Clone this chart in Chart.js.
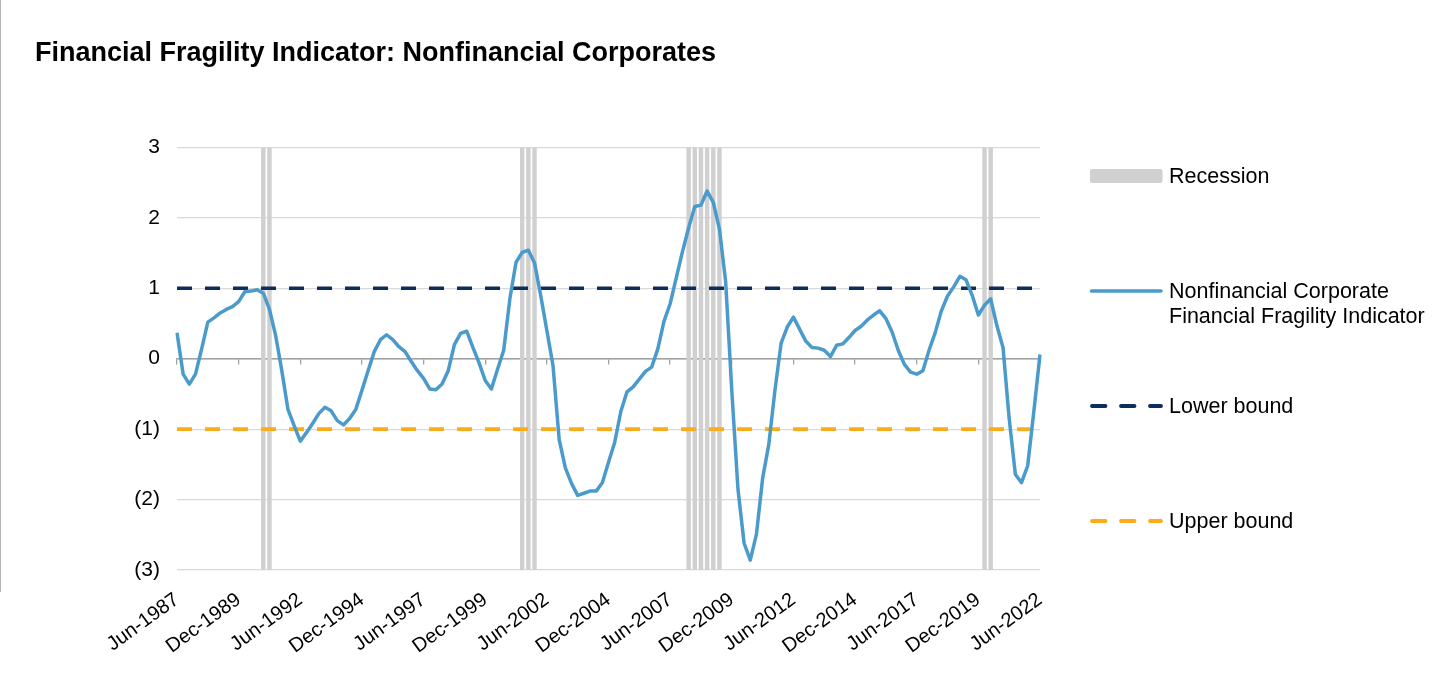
<!DOCTYPE html>
<html>
<head>
<meta charset="utf-8">
<script src="https://cdn.jsdelivr.net/npm/chart.js@4.4.1/dist/chart.umd.min.js"></script>
<style>
html,body{margin:0;padding:0;background:#fff;}
body{width:1439px;height:698px;position:relative;overflow:hidden;font-family:"Liberation Sans",Arial,Helvetica,sans-serif;}
#wrap{position:absolute;left:0;top:0;width:1439px;height:698px;}
#edge{position:absolute;left:0;top:0;width:1px;height:592px;background:#b5b5b5;}
.lg-text{position:absolute;left:1169px;font-size:21.5px;line-height:25px;color:#000;white-space:nowrap;}
.lg-swatch{position:absolute;left:1088px;width:78px;height:20px;}
</style>
</head>
<body>
<div id="edge"></div>
<div id="wrap"><canvas id="c"></canvas></div>
<div id="legend"></div>
<script>
// ---- Data ----
const chartTitle = 'Financial Fragility Indicator: Nonfinancial Corporates';

const quarters = [
  'Jun-1987','Sep-1987','Dec-1987',
  'Mar-1988','Jun-1988','Sep-1988','Dec-1988',
  'Mar-1989','Jun-1989','Sep-1989','Dec-1989',
  'Mar-1990','Jun-1990','Sep-1990','Dec-1990',
  'Mar-1991','Jun-1991','Sep-1991','Dec-1991',
  'Mar-1992','Jun-1992','Sep-1992','Dec-1992',
  'Mar-1993','Jun-1993','Sep-1993','Dec-1993',
  'Mar-1994','Jun-1994','Sep-1994','Dec-1994',
  'Mar-1995','Jun-1995','Sep-1995','Dec-1995',
  'Mar-1996','Jun-1996','Sep-1996','Dec-1996',
  'Mar-1997','Jun-1997','Sep-1997','Dec-1997',
  'Mar-1998','Jun-1998','Sep-1998','Dec-1998',
  'Mar-1999','Jun-1999','Sep-1999','Dec-1999',
  'Mar-2000','Jun-2000','Sep-2000','Dec-2000',
  'Mar-2001','Jun-2001','Sep-2001','Dec-2001',
  'Mar-2002','Jun-2002','Sep-2002','Dec-2002',
  'Mar-2003','Jun-2003','Sep-2003','Dec-2003',
  'Mar-2004','Jun-2004','Sep-2004','Dec-2004',
  'Mar-2005','Jun-2005','Sep-2005','Dec-2005',
  'Mar-2006','Jun-2006','Sep-2006','Dec-2006',
  'Mar-2007','Jun-2007','Sep-2007','Dec-2007',
  'Mar-2008','Jun-2008','Sep-2008','Dec-2008',
  'Mar-2009','Jun-2009','Sep-2009','Dec-2009',
  'Mar-2010','Jun-2010','Sep-2010','Dec-2010',
  'Mar-2011','Jun-2011','Sep-2011','Dec-2011',
  'Mar-2012','Jun-2012','Sep-2012','Dec-2012',
  'Mar-2013','Jun-2013','Sep-2013','Dec-2013',
  'Mar-2014','Jun-2014','Sep-2014','Dec-2014',
  'Mar-2015','Jun-2015','Sep-2015','Dec-2015',
  'Mar-2016','Jun-2016','Sep-2016','Dec-2016',
  'Mar-2017','Jun-2017','Sep-2017','Dec-2017',
  'Mar-2018','Jun-2018','Sep-2018','Dec-2018',
  'Mar-2019','Jun-2019','Sep-2019','Dec-2019',
  'Mar-2020','Jun-2020','Sep-2020','Dec-2020',
  'Mar-2021','Jun-2021','Sep-2021','Dec-2021',
  'Mar-2022','Jun-2022'
];

const tickLabels = [
  'Jun-1987','Dec-1989','Jun-1992','Dec-1994','Jun-1997','Dec-1999','Jun-2002',
  'Dec-2004','Jun-2007','Dec-2009','Jun-2012','Dec-2014','Jun-2017','Dec-2019','Jun-2022'
];

const fragilityIndicator = [
  0.37,-0.22,-0.36,-0.22,0.14,0.52,0.58,0.65,0.70,0.74,
  0.81,0.95,0.96,0.98,0.93,0.70,0.33,-0.17,-0.72,-0.95,
  -1.17,-1.05,-0.92,-0.78,-0.69,-0.74,-0.88,-0.94,-0.85,-0.72,
  -0.45,-0.17,0.10,0.27,0.34,0.27,0.17,0.10,-0.04,-0.17,
  -0.28,-0.43,-0.44,-0.36,-0.17,0.20,0.36,0.39,0.16,-0.06,
  -0.31,-0.43,-0.15,0.12,0.85,1.37,1.51,1.54,1.36,0.90,
  0.40,-0.10,-1.15,-1.55,-1.77,-1.94,-1.91,-1.88,-1.88,-1.76,
  -1.47,-1.19,-0.75,-0.47,-0.40,-0.29,-0.18,-0.12,0.14,0.53,
  0.78,1.15,1.52,1.86,2.16,2.18,2.38,2.22,1.84,1.10,
  -0.45,-1.85,-2.62,-2.86,-2.49,-1.70,-1.22,-0.45,0.22,0.45,
  0.59,0.42,0.25,0.16,0.15,0.12,0.03,0.19,0.21,0.30,
  0.40,0.46,0.55,0.62,0.68,0.57,0.38,0.12,-0.08,-0.19,
  -0.22,-0.17,0.12,0.37,0.68,0.89,1.02,1.17,1.12,0.90,
  0.62,0.76,0.85,0.47,0.16,-0.85,-1.64,-1.76,-1.52,-0.75,
  0.06
];

const recessionQuarters = [
  'Dec-1990','Mar-1991',
  'Jun-2001','Sep-2001','Dec-2001',
  'Mar-2008','Jun-2008','Sep-2008','Dec-2008','Mar-2009','Jun-2009',
  'Mar-2020','Jun-2020'
];
const recessionRange = [-3, 3];

const lowerBound = 1;
const upperBound = -1;

const yTicks = [-3, -2, -1, 0, 1, 2, 3];

const seriesNames = {
  recession: 'Recession',
  indicator: 'Nonfinancial Corporate Financial Fragility Indicator',
  lower: 'Lower bound',
  upper: 'Upper bound'
};

// ---- Styles ----
const FONT = '"Liberation Sans", Arial, Helvetica, sans-serif';
const COL_LINE = '#4a9acb';
const COL_NAVY = '#0d2d5b';
const COL_ORANGE = '#fdab19';
const COL_REC = '#d0d0d0';

const firstQ = quarters[0];
const lastQ = quarters[quarters.length - 1];

const chart = new Chart(document.getElementById('c'), {
  type: 'line',
  data: {
    labels: quarters,
    datasets: [
      {
        type: 'line',
        label: seriesNames.indicator,
        data: fragilityIndicator,
        borderColor: COL_LINE,
        backgroundColor: COL_LINE,
        borderWidth: 3.5,
        pointRadius: 0,
        tension: 0,
        borderJoinStyle: 'round',
        order: 1
      },
      {
        type: 'line',
        label: seriesNames.lower,
        data: [{x: firstQ, y: lowerBound}, {x: lastQ, y: lowerBound}],
        borderColor: COL_NAVY,
        backgroundColor: COL_NAVY,
        borderWidth: 3.6,
        borderDash: [15, 13],
        pointRadius: 0,
        order: 2
      },
      {
        type: 'line',
        label: seriesNames.upper,
        data: [{x: firstQ, y: upperBound}, {x: lastQ, y: upperBound}],
        borderColor: COL_ORANGE,
        backgroundColor: COL_ORANGE,
        borderWidth: 3.6,
        borderDash: [15, 13],
        pointRadius: 0,
        order: 3
      },
      {
        type: 'bar',
        label: seriesNames.recession,
        data: recessionQuarters.map(q => ({x: q, y: recessionRange})),
        backgroundColor: COL_REC,
        borderWidth: 0,
        barPercentage: 0.72,
        categoryPercentage: 1,
        grouped: false,
        order: 10
      }
    ]
  },
  options: {
    responsive: true,
    maintainAspectRatio: false,
    animation: false,
    events: [],
    layout: { padding: { left: 35, right: 399, top: 0, bottom: 0 } },
    plugins: {
      legend: { display: false },
      tooltip: { enabled: false },
      title: {
        display: true,
        text: chartTitle,
        align: 'start',
        color: '#000',
        font: { family: FONT, size: 27, weight: 'bold', lineHeight: 1.2 },
        padding: { top: 37, bottom: 78 }
      }
    },
    scales: {
      x: {
        type: 'category',
        offset: false,
        position: 'bottom',
        grid: { display: false },
        border: { display: false },
        ticks: {
          autoSkip: false,
          minRotation: 36,
          maxRotation: 36,
          padding: 10,
          color: '#000',
          font: { family: FONT, size: 20 },
          callback: function (value) {
            const lab = this.getLabelForValue(value);
            return tickLabels.includes(lab) ? lab : '';
          }
        },
        afterFit: s => { s.height = 128; }
      },
      x0: {
        type: 'category',
        axis: 'x',
        offset: false,
        position: { y: 0 },
        grid: {
          display: true,
          drawOnChartArea: false,
          drawTicks: true,
          tickLength: 5,
          lineWidth: 1.3,
          color: c => (c.tick && tickLabels.includes(quarters[c.tick.value])) ? '#a3a3a3' : 'rgba(0,0,0,0)'
        },
        border: { display: true, color: '#a3a3a3', width: 1.6 },
        ticks: { display: false, autoSkip: false, maxRotation: 0, minRotation: 0 }
      },
      y: {
        type: 'linear',
        min: -3,
        max: 3,
        afterBuildTicks: s => { s.ticks = yTicks.map(v => ({ value: v })); },
        grid: {
          drawTicks: false,
          lineWidth: 1.2,
          color: c => (c.tick && c.tick.value === 0) ? '#a3a3a3' : '#d9d9d9'
        },
        border: { display: false },
        ticks: {
          padding: 17,
          color: '#000',
          font: { family: FONT, size: 21 },
          callback: v => v < 0 ? '(' + (-v) + ')' : String(v)
        },
        afterFit: s => { s.width = 142; }
      }
    }
  }
});

// ---- HTML legend built from the chart's datasets ----
(function buildLegend() {
  const legend = document.getElementById('legend');
  const byLabel = {};
  chart.data.datasets.forEach(d => { byLabel[d.label] = d; });
  const items = [
    { d: byLabel[seriesNames.recession], kind: 'box', swTop: 166, textTop: 164, text: ['Recession'] },
    { d: byLabel[seriesNames.indicator], kind: 'solid', swTop: 281, textTop: 279, text: ['Nonfinancial Corporate', 'Financial Fragility Indicator'] },
    { d: byLabel[seriesNames.lower], kind: 'dash', swTop: 396, textTop: 394, text: ['Lower bound'] },
    { d: byLabel[seriesNames.upper], kind: 'dash', swTop: 511, textTop: 509, text: ['Upper bound'] }
  ];
  items.forEach(it => {
    const color = it.d.type === 'bar' ? it.d.backgroundColor : it.d.borderColor;
    let svg;
    if (it.kind === 'box') {
      svg = '<svg class="lg-swatch" style="top:' + it.swTop + 'px" width="78" height="20"><rect x="2" y="3" width="72.5" height="14" rx="2" fill="' + color + '"/></svg>';
    } else if (it.kind === 'solid') {
      svg = '<svg class="lg-swatch" style="top:' + it.swTop + 'px" width="78" height="20"><line x1="3.5" y1="10" x2="73" y2="10" stroke="' + color + '" stroke-width="3.6" stroke-linecap="round"/></svg>';
    } else {
      svg = '<svg class="lg-swatch" style="top:' + it.swTop + 'px" width="78" height="20"><line x1="4" y1="10" x2="73" y2="10" stroke="' + color + '" stroke-width="3.8" stroke-linecap="round" stroke-dasharray="13.5 15.5"/></svg>';
    }
    const txt = '<div class="lg-text" style="top:' + it.textTop + 'px">' + it.text.join('<br>') + '</div>';
    legend.insertAdjacentHTML('beforeend', svg + txt);
  });
})();
</script>
</body>
</html>
